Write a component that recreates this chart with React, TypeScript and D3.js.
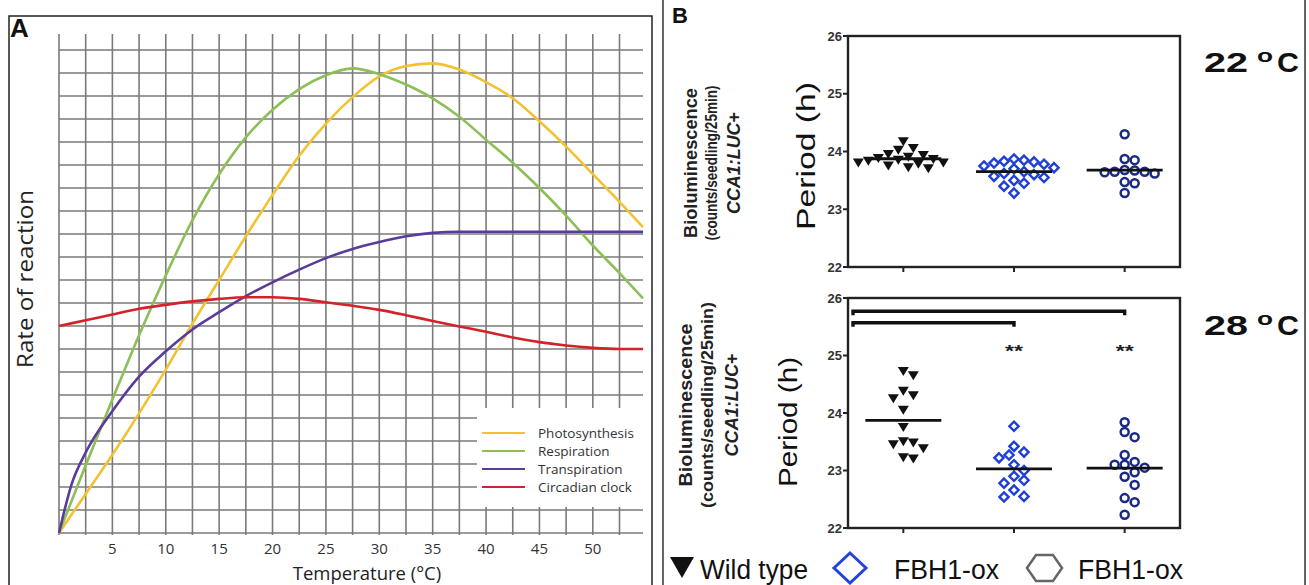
import React from 'react';
import * as d3 from 'd3';

// ---- panel A: rate of reaction vs temperature (grid units) ----
const temps = [0, 2.5, 5, 7.5, 10, 12.5, 15, 17.5, 20, 22.5, 25, 27.5, 30, 32.5, 35, 37.5, 40, 42.5, 45, 47.5, 50, 52.5, 54.7];
const photosynthesis = [0, 1.7, 3.4, 5.2, 7.1, 9.1, 11.0, 12.9, 14.7, 16.4, 17.8, 18.95, 19.85, 20.3, 20.42, 20.15, 19.6, 18.9, 17.9, 16.8, 15.6, 14.4, 13.3];
const respiration = [0, 2.95, 5.8, 8.6, 11.2, 13.6, 15.6, 17.2, 18.4, 19.3, 19.9, 20.2, 19.95, 19.5, 18.9, 18.1, 17.1, 16.1, 15.0, 13.8, 12.5, 11.3, 10.2];
const transpirationTemps = [0, 1.2, 2.5, 5, 7.5, 10, 12.5, 15, 17.5, 20, 22.5, 25, 27.5, 30, 32.5, 35, 37.5, 40, 45, 50, 54.7];
const transpiration = [0, 2.15, 3.5, 5.3, 6.8, 7.9, 8.85, 9.6, 10.3, 10.9, 11.45, 11.95, 12.35, 12.65, 12.9, 13.05, 13.1, 13.1, 13.1, 13.1, 13.1];
const circadian = [9.0, 9.25, 9.5, 9.75, 9.92, 10.07, 10.18, 10.25, 10.25, 10.18, 10.03, 9.88, 9.7, 9.47, 9.22, 8.98, 8.75, 8.5, 8.3, 8.15, 8.05, 8.0, 8.0];
const seriesNames = ['Photosynthesis', 'Respiration', 'Transpiration', 'Circadian clock'];
const seriesColors = ['#f2c230', '#8cbf58', '#5a3b9c', '#d3222a'];
const tempTicks = [5, 10, 15, 20, 25, 30, 35, 40, 45, 50];

// ---- panel B: period (h) per genotype ----
const groups = ['Wild type', 'FBH1-ox 1', 'FBH1-ox 2'];
const periodTicks = [22, 23, 24, 25, 26];
const wt22 = [24.17, 24.05, 24.02, 23.95, 23.93, 23.9, 23.88, 23.86, 23.85, 23.83, 23.8, 23.8, 23.78, 23.75, 23.72, 23.7];
const ox1At22 = [23.87, 23.85, 23.83, 23.82, 23.8, 23.78, 23.75, 23.72, 23.7, 23.65, 23.62, 23.6, 23.57, 23.55, 23.5, 23.45, 23.4, 23.28];
const ox2At22 = [24.3, 23.87, 23.85, 23.68, 23.67, 23.65, 23.65, 23.64, 23.62, 23.47, 23.45, 23.28];
const wt28 = [24.72, 24.65, 24.38, 24.3, 24.25, 24.05, 23.75, 23.5, 23.48, 23.45, 23.38, 23.22, 23.2];
const ox1At28 = [23.77, 23.42, 23.32, 23.27, 23.22, 23.1, 23.0, 22.9, 22.83, 22.78, 22.66, 22.55, 22.54];
const ox2At28 = [23.84, 23.67, 23.58, 23.27, 23.15, 23.1, 23.1, 23.05, 22.97, 22.89, 22.75, 22.52, 22.45, 22.23];
const brackets = [{ to: 'FBH1-ox 2', level: 25.77 }, { to: 'FBH1-ox 1', level: 25.57 }];

const fontA = '"Open Sans", "Noto Sans", sans-serif';
const fontB = '"Liberation Sans", Arial, sans-serif';

function swarm(vals, y, cx, d, step) {
  const placed = [];
  const order = vals.map((v, i) => i).sort((a, b) => vals[b] - vals[a]);
  for (const i of order) {
    const yy = y(vals[i]);
    for (let k = 0; k < 60; k++) {
      const off = (k % 2 ? 1 : -1) * Math.ceil(k / 2) * step;
      const xx = cx + off;
      if (placed.every(p => Math.hypot(p.x - xx, p.y - yy) >= d)) {
        placed.push({ x: xx, y: yy });
        break;
      }
    }
  }
  return placed;
}

function Marker({ kind, x, y }) {
  if (kind === 0) {
    return <path d={`M${x - 5.5},${y - 4.5}L${x + 5.5},${y - 4.5}L${x},${y + 4.5}Z`} fill="#111" />;
  }
  if (kind === 1) {
    return <path d={`M${x},${y - 4.6}L${x + 4.6},${y}L${x},${y + 4.6}L${x - 4.6},${y}Z`} fill="#fff" stroke="#1f3fd6" strokeWidth={2.4} />;
  }
  return <circle cx={x} cy={y} r={4} fill="#fff" stroke="#1b2a86" strokeWidth={2.5} />;
}

function PanelA() {
  const x = d3.scaleLinear().domain([0, 54.7]).range([59, 643]);
  const y = d3.scaleLinear().domain([0, 21]).range([533, 50]);
  const line = d3.line().x(d => x(d[0])).y(d => y(d[1])).curve(d3.curveMonotoneX);
  const series = [
    temps.map((t, j) => [t, photosynthesis[j]]),
    temps.map((t, j) => [t, respiration[j]]),
    transpirationTemps.map((t, j) => [t, transpiration[j]]),
    temps.map((t, j) => [t, circadian[j]]),
  ];
  const vLines = d3.range(0, 53, 2.5);
  const hLines = d3.range(0, 22, 1);
  return (
    <g clipPath="url(#clipA)">
      {vLines.map(t => (
        <line key={'v' + t} x1={x(t)} x2={x(t)} y1={34} y2={535} stroke="#7a7a7a" strokeWidth={1.6} />
      ))}
      {hLines.map(v => (
        <line key={'h' + v} x1={59} x2={643} y1={y(v)} y2={y(v)} stroke="#7a7a7a" strokeWidth={1.6} />
      ))}
      {series.map((s, i) => (
        <path key={i} d={line(s)} fill="none" stroke={seriesColors[i]} strokeWidth={2.6} />
      ))}
      <rect x={477} y={408} width={176} height={99} fill="#fff" />
      {seriesNames.map((n, i) => (
        <g key={n}>
          <line x1={482} x2={525} y1={433 + i * 18} y2={433 + i * 18} stroke={seriesColors[i]} strokeWidth={2} />
          <text x={538} y={433 + i * 18} dy="0.35em" fontSize={13.5} fill="#333" fontFamily={fontA}>{n}</text>
        </g>
      ))}
      {tempTicks.map(t => (
        <text key={t} x={x(t)} y={554} textAnchor="middle" fontSize={15} fill="#333" fontFamily={fontA}>{t}</text>
      ))}
      <text x={367} y={580} textAnchor="middle" fontSize={18.5} fill="#222" fontFamily={fontA}>Temperature (°C)</text>
      <text transform="translate(33,279) rotate(-90)" textAnchor="middle" fontSize={21} fill="#222" fontFamily={fontA}
        textLength={178} lengthAdjust="spacingAndGlyphs">Rate of reaction</text>
      <text x={10} y={37} fontSize={26} fontWeight="bold" fontFamily={fontB} fill="#111">A</text>
    </g>
  );
}

function Plot({ top, bottom, data, temp, tempY, labelX, labelY, periodX, sig }) {
  const left = 848, right = 1180;
  const y = d3.scaleLinear().domain([22, 26]).range([bottom, top]);
  const xb = d3.scaleBand().domain(groups).range([left, right]);
  const cx = g => xb(g) + xb.bandwidth() / 2;
  return (
    <g fontFamily={fontB}>
      <rect x={left} y={top} width={right - left} height={bottom - top} fill="none" stroke="#222" strokeWidth={2.4} />
      {periodTicks.map(t => (
        <g key={t}>
          <line x1={left - 5} x2={left} y1={y(t)} y2={y(t)} stroke="#222" strokeWidth={2} />
          <text x={842} y={y(t)} dy="0.35em" textAnchor="end" fontSize={13} fontWeight="bold" fill="#333">{t}</text>
        </g>
      ))}
      {groups.map(g => (
        <line key={g} x1={cx(g)} x2={cx(g)} y1={bottom} y2={bottom + 5} stroke="#222" strokeWidth={2} />
      ))}
      {data.map((vals, gi) => {
        const pts = swarm(vals, y, cx(groups[gi]), 9.5, 5);
        const m = d3.mean(vals);
        return (
          <g key={gi}>
            {pts.map((p, i) => <Marker key={i} kind={gi} x={p.x} y={p.y} />)}
            <line x1={cx(groups[gi]) - 38} x2={cx(groups[gi]) + 38} y1={y(m)} y2={y(m)} stroke="#111" strokeWidth={2.8} />
          </g>
        );
      })}
      {sig && sig.map(b => (
        <g key={b.to}>
          <path d={`M${left + 5},${y(b.level) + 4}V${y(b.level)}H${cx(b.to)}V${y(b.level) + 4}`} fill="none" stroke="#111" strokeWidth={3.4} />
          <text x={cx(b.to)} y={357} textAnchor="middle" fontSize={17} fontWeight="bold" fill="#222"
            textLength={18} lengthAdjust="spacingAndGlyphs">**</text>
        </g>
      ))}
      <text transform={`translate(${labelX[0]},${labelY}) rotate(-90)`} textAnchor="middle" fontSize={18} fontWeight="bold" fill="#222"
        textLength={labelX[3]} lengthAdjust="spacingAndGlyphs">Bioluminescence</text>
      <text transform={`translate(${labelX[1]},${labelY}) rotate(-90)`} textAnchor="middle" fontSize={17} fontWeight="bold" fill="#222"
        textLength={labelX[4]} lengthAdjust="spacingAndGlyphs">(counts/seedling/25min)</text>
      <text transform={`translate(${labelX[2]},${labelY}) rotate(-90)`} textAnchor="middle" fontSize={18} fontWeight="bold" fill="#222"
        textLength={labelX[5]} lengthAdjust="spacingAndGlyphs"><tspan fontStyle="italic">CCA1:LUC</tspan>+</text>
      <text transform={`translate(${periodX[0]},${periodX[1]}) rotate(-90)`} textAnchor="middle" fontSize={26} fill="#111"
        textLength={periodX[2]} lengthAdjust="spacingAndGlyphs">Period (h)</text>
      <text x={1204} y={tempY} fontSize={28} fontWeight="bold" fill="#111" textLength={44} lengthAdjust="spacingAndGlyphs">{temp}</text>
      <text x={1257} y={tempY - 10} fontSize={18} fontWeight="bold" fill="#111" textLength={16} lengthAdjust="spacingAndGlyphs">o</text>
      <text x={1277} y={tempY} fontSize={28} fontWeight="bold" fill="#111" textLength={22} lengthAdjust="spacingAndGlyphs">C</text>
    </g>
  );
}

export default function App() {
  return (
    <svg width={1309} height={585} style={{ position: 'absolute', left: 0, top: 0, background: '#fff' }}>
      <defs>
        <clipPath id="clipA"><rect x={9} y={16} width={643} height={580} /></clipPath>
      </defs>
      <rect x={0} y={0} width={1309} height={585} fill="#fff" />
      <PanelA />
      <rect x={9} y={16} width={643} height={600} fill="none" stroke="#222" strokeWidth={1.5} />
      <line x1={663} x2={663} y1={0} y2={585} stroke="#333" strokeWidth={1.5} />
      <line x1={1305} x2={1305} y1={0} y2={585} stroke="#333" strokeWidth={1.5} />
      <text x={672} y={23} fontSize={22} fontWeight="bold" fontFamily={fontB} fill="#111">B</text>
      <Plot top={36} bottom={267} data={[wt22, ox1At22, ox2At22]} temp="22" tempY={72}
        labelX={[697, 717, 740, 150, 155, 102]} labelY={163} periodX={[815, 156, 148]} />
      <Plot top={298} bottom={528} data={[wt28, ox1At28, ox2At28]} temp="28" tempY={335}
        labelX={[692, 713, 738, 163, 206, 103]} labelY={405} periodX={[797, 422, 130]} sig={brackets} />
      <g fontFamily={fontB} fill="#111">
        <path d="M670,557L694,557L682,578Z" fill="#111" />
        <text x={700} y={579} fontSize={27} textLength={108} lengthAdjust="spacingAndGlyphs">Wild type</text>
        <path d="M850,553L866,568L850,583L834,568Z" fill="none" stroke="#2244dd" strokeWidth={3} />
        <text x={894} y={579} fontSize={27} textLength={105} lengthAdjust="spacingAndGlyphs">FBH1-ox</text>
        <path d="M1027,568L1036,555L1053,555L1062,568L1053,581L1036,581Z" fill="none" stroke="#666" strokeWidth={2.5} />
        <text x={1078} y={579} fontSize={27} textLength={105} lengthAdjust="spacingAndGlyphs">FBH1-ox</text>
      </g>
    </svg>
  );
}
